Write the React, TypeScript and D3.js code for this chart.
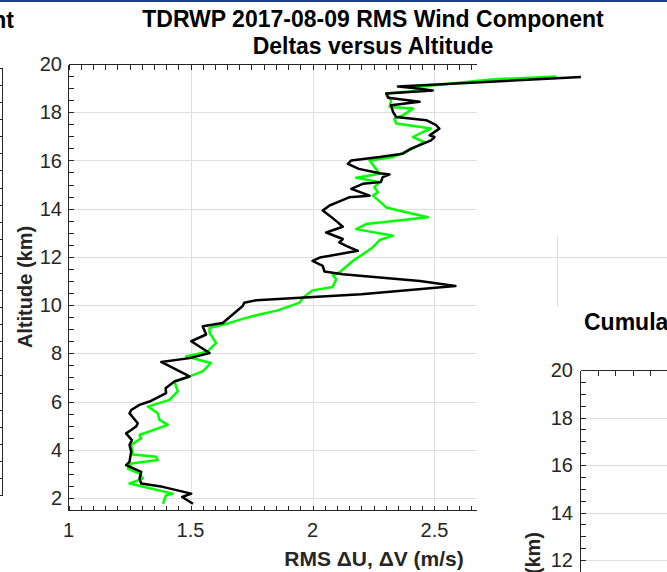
import React from "react";
import * as d3 from "d3";

// Black series: RMS ΔU (m/s) vs altitude (km)
const blackAlt = [1.76,2.04,2.18,2.46,2.6,2.8,3.08,3.36,3.5,3.92,4.2,4.4,4.68,4.82,4.96,5.1,5.51,5.65,5.86,6.0,6.35,6.55,6.83,7.04,7.64,7.8,8.01,8.5,8.78,9.12,9.26,9.61,9.96,10.1,10.2,10.45,10.79,11.0,11.28,11.39,11.63,11.83,11.97,12.25,12.46,12.6,12.74,13.01,13.25,13.43,13.71,13.92,14.13,14.33,14.47,14.54,14.82,15.03,15.1,15.31,15.42,15.47,15.65,15.86,16.0,16.14,16.28,16.49,16.83,16.97,17.04,17.32,17.46,17.67,17.74,17.8,18.01,18.29,18.43,18.6,18.78,18.9,19.0,19.07,19.46];
const blackVal = [1.51,1.466,1.503,1.386,1.298,1.291,1.298,1.236,1.25,1.257,1.25,1.26,1.236,1.257,1.277,1.284,1.25,1.257,1.291,1.332,1.40,1.398,1.434,1.496,1.38,1.496,1.578,1.503,1.564,1.55,1.632,1.673,1.714,1.72,1.77,2.2,2.586,2.44,2.124,2.049,2.042,2.0,2.03,2.186,2.138,2.11,2.124,2.056,2.124,2.104,2.07,2.042,2.07,2.118,2.15,2.234,2.159,2.206,2.28,2.288,2.316,2.275,2.19,2.145,2.159,2.275,2.37,2.404,2.486,2.5,2.48,2.52,2.507,2.466,2.40,2.343,2.33,2.322,2.439,2.31,2.302,2.493,2.412,2.35,3.10];

// Green series: RMS ΔV (m/s) vs altitude (km)
const greenAlt = [1.76,2.11,2.18,2.6,2.8,3.01,3.22,3.43,3.57,3.71,3.8,4.2,4.47,4.61,5.03,5.24,5.51,5.79,6.07,6.42,6.83,7.04,7.25,7.6,7.87,8.08,8.43,8.85,9.05,9.26,9.47,9.61,9.78,10.1,10.3,10.61,10.75,11.07,11.25,11.35,11.83,12.11,12.39,12.7,12.88,13.15,13.36,13.64,13.85,14.05,14.26,14.54,14.68,14.89,15.1,15.28,15.45,15.65,16.0,16.14,16.49,16.76,16.97,17.18,17.32,17.53,17.74,17.87,18.15,18.22,18.5,18.78,18.92,19.05,19.36,19.48];
const greenVal = [1.387,1.40,1.427,1.25,1.305,1.291,1.243,1.257,1.366,1.359,1.264,1.257,1.298,1.291,1.407,1.373,1.366,1.325,1.414,1.448,1.434,1.496,1.55,1.584,1.482,1.571,1.605,1.578,1.578,1.66,1.728,1.783,1.858,1.947,1.96,2.0,2.083,2.097,2.083,2.11,2.165,2.206,2.247,2.275,2.33,2.179,2.22,2.473,2.384,2.302,2.28,2.247,2.268,2.254,2.275,2.179,2.275,2.26,2.234,2.33,2.41,2.459,2.412,2.452,2.486,2.343,2.336,2.37,2.412,2.316,2.322,2.302,2.466,2.43,2.73,3.0];

const xTickLabels = ["1", "1.5", "2", "2.5"];
const xTickValues = [1, 1.5, 2, 2.5];
const yTickValues = [2, 4, 6, 8, 10, 12, 14, 16, 18, 20];
const y3TickValues = [12, 14, 16, 18, 20];

const titleLine1 = "TDRWP 2017-08-09 RMS Wind Component";
const titleLine2 = "Deltas versus Altitude";
const xLabel = "RMS \u0394U, \u0394V (m/s)";
const yLabel = "Altitude (km)";

const FONT = "'Liberation Sans', Arial, Helvetica, sans-serif";
const AX = "#262626";
const GRID = "#dedede";

export default function App() {
  const W = 667, H = 572;
  const x = d3.scaleLinear().domain([1, 3.5]).range([68.5, 678.5]);
  const y = d3.scaleLinear().domain([1.5, 20]).range([510, 64]);
  const visRight = 477;
  const left = 68.5, top = 64.5, bottom = 510.5;
  const px = (v: number) => Math.round(v) + 0.5;

  const line = d3.line<[number, number]>().x(d => x(d[1])).y(d => y(d[0]));
  const black: [number, number][] = blackAlt.map((a, i) => [a, blackVal[i]]);
  const green: [number, number][] = greenAlt.map((a, i) => [a, greenVal[i]]);

  const xMinor = d3.range(1, 2.7, 0.05).filter(v => x(v) <= visRight);
  const yMinor = d3.range(2, 20, 0.5);

  // left partial panel
  const yl = d3.scaleLinear().domain([0, 25]).range([495, 68]);
  const ylTicks = d3.range(0, 26);

  // third panel
  const y3 = d3.scaleLinear().domain([10, 20]).range([607.5, 370]);
  const y3Minor = d3.range(11, 20, 0.5);
  const x3 = d3.scaleLinear().domain([0, 5]).range([580, 667.5]);
  const x3Ticks = d3.range(1, 5);

  return (
    <svg width={W} height={H} style={{ position: "absolute", left: 0, top: 0, background: "#fff" }}
      fontFamily={FONT}>
      <rect x={0} y={0} width={W} height={H} fill="#fff" />
      <rect x={0} y={0} width={W} height={2} fill="#1c3f8e" />

      {/* left partial panel */}
      <g stroke={AX} strokeWidth={1} shapeRendering="crispEdges">
        <line x1={0} x2={2.5} y1={68.5} y2={68.5} />
        <line x1={0} x2={2.5} y1={495.5} y2={495.5} />
        <line x1={2.5} x2={2.5} y1={68} y2={496} />
        {ylTicks.map(t => (
          <line key={t} x1={0} x2={2.5} y1={px(yl(t))} y2={px(yl(t))} />
        ))}
      </g>
      <text x={14} y={28} textAnchor="end" fontWeight="bold" fontSize={23} fill="#000">Component</text>

      {/* grid */}
      <g stroke={GRID} strokeWidth={1} shapeRendering="crispEdges">
        {[1.5, 2, 2.5].map(v => (
          <line key={"gx" + v} x1={px(x(v))} x2={px(x(v))} y1={top} y2={bottom} />
        ))}
        <line x1={px(x(3))} x2={px(x(3))} y1={236} y2={px(y(10))} />
        {[2, 4, 6, 8, 10, 12, 14, 16, 18].map(v => (
          <line key={"gy" + v} x1={left} x2={v === 12 ? W : visRight} y1={px(y(v))} y2={px(y(v))} />
        ))}
      </g>

      {/* axes */}
      <g stroke={AX} strokeWidth={1} shapeRendering="crispEdges" fill="none">
        <line x1={left} x2={left} y1={top} y2={bottom} />
        <line x1={left} x2={visRight} y1={bottom} y2={bottom} />
        <line x1={left} x2={visRight} y1={top} y2={top} />
        {xMinor.map((v, i) => (
          <g key={"xt" + i}>
            <line x1={px(x(v))} x2={px(x(v))} y1={bottom} y2={bottom - 5} />
            <line x1={px(x(v))} x2={px(x(v))} y1={top} y2={top + 5} />
          </g>
        ))}
        {yMinor.map((v, i) => (
          <line key={"yt" + i} x1={left} x2={left + 5} y1={px(y(v))} y2={px(y(v))} />
        ))}
      </g>

      {/* data */}
      <path d={line(green) || ""} fill="none" stroke="#00ff00" strokeWidth={2.5} strokeLinejoin="round" />
      <path d={line(black) || ""} fill="none" stroke="#000" strokeWidth={2.5} strokeLinejoin="round" />

      {/* tick labels */}
      <g fill={AX} fontSize={20}>
        {yTickValues.map(v => (
          <text key={"yl" + v} x={62} y={y(v)} dy="0.36em" textAnchor="end">{v}</text>
        ))}
        {xTickValues.map((v, i) => (
          <text key={"xl" + v} x={x(v)} y={537} textAnchor="middle">{xTickLabels[i]}</text>
        ))}
      </g>

      {/* titles and labels */}
      <g fill="#000" fontWeight="bold">
        <text x={373} y={27} textAnchor="middle" fontSize={23}>{titleLine1}</text>
        <text x={373} y={54} textAnchor="middle" fontSize={23}>{titleLine2}</text>
        <text x={374} y={566} textAnchor="middle" fontSize={21} fill={AX}>{xLabel}</text>
        <text transform={`translate(32,${(64 + 510) / 2}) rotate(-90)`} textAnchor="middle" fontSize={20} fill={AX}>{yLabel}</text>
      </g>

      {/* third panel (partially visible) */}
      <g stroke={GRID} strokeWidth={1} shapeRendering="crispEdges">
        {[12, 14, 16, 18].map(v => (
          <line key={"g3" + v} x1={580.5} x2={W} y1={px(y3(v))} y2={px(y3(v))} />
        ))}
      </g>
      <g stroke={AX} strokeWidth={1} shapeRendering="crispEdges">
        <line x1={580.5} x2={580.5} y1={370.5} y2={H} />
        <line x1={580.5} x2={W} y1={370.5} y2={370.5} />
        {y3Minor.map((v, i) => (
          <line key={"y3t" + i} x1={580.5} x2={585.5} y1={px(y3(v))} y2={px(y3(v))} />
        ))}
        {x3Ticks.map(t => (
          <line key={"x3t" + t} x1={px(x3(t))} x2={px(x3(t))} y1={370.5} y2={375.5} />
        ))}
      </g>
      <g fill={AX} fontSize={20}>
        {y3TickValues.map(v => (
          <text key={"y3l" + v} x={573} y={y3(v)} dy="0.36em" textAnchor="end">{v}</text>
        ))}
      </g>
      <text x={584} y={330} fontWeight="bold" fontSize={23} fill="#000">Cumulative RMS Deltas</text>
      <text transform={`translate(540,532) rotate(-90)`} textAnchor="end" fontWeight="bold" fontSize={20} fill={AX}>{yLabel}</text>
    </svg>
  );
}
